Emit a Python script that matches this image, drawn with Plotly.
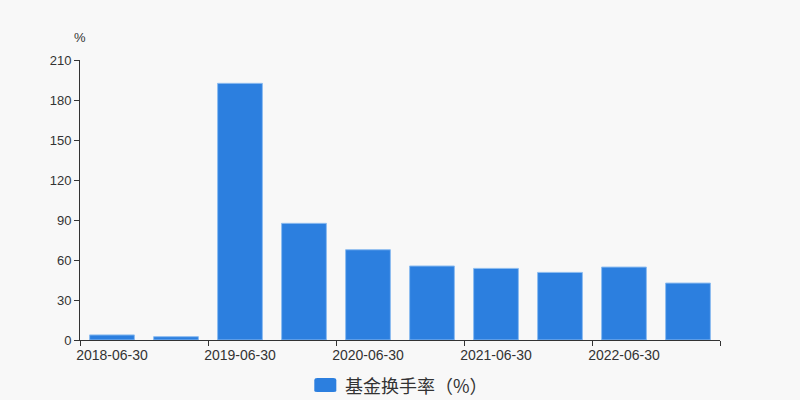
import plotly.graph_objects as go

categories = ["2018-06-30", "2018-12-31", "2019-06-30", "2019-12-31", "2020-06-30",
              "2020-12-31", "2021-06-30", "2021-12-31", "2022-06-30", "2022-12-31"]
turnover = [3.8, 2.5, 192.5, 87.5, 67.7, 55.5, 53.7, 50.7, 54.7, 42.7]
y_ticks = [0, 30, 60, 90, 120, 150, 180, 210]
series_name = "基金换手率（%）"

idx = list(range(len(categories)))
label_idx = idx[::2]
label_text = [categories[i] for i in label_idx]
boundaries = [i - 0.5 for i in idx[::2]] + [idx[-1] + 0.5]

bar_color = "#2c7fdf"
font_fam = "Liberation Sans, Arial, Noto Sans CJK SC, sans-serif"

fig = go.Figure()
fig.add_trace(go.Bar(
    x=idx, y=turnover, width=0.7, name=series_name,
    marker=dict(color=bar_color, line=dict(color="#8cbcf0", width=1)),
    showlegend=False,
))

fig.update_layout(
    width=800, height=400,
    margin=dict(l=80, r=80, t=60, b=60),
    paper_bgcolor="#f8f8f8", plot_bgcolor="#f8f8f8",
    font=dict(family=font_fam, color="#333333", size=13),
    xaxis=dict(
        range=[-0.5, len(categories) - 0.5],
        tickmode="array", tickvals=label_idx, ticktext=label_text,
        ticks="", showgrid=False, zeroline=False,
        showline=True, linecolor="#333333", linewidth=1,
        tickfont=dict(size=14, color="#333333"),
        ticklabelstandoff=2,
        minor=dict(tickmode="array", tickvals=boundaries, ticks="outside",
                   ticklen=5, tickcolor="#333333", tickwidth=1, showgrid=False),
    ),
    yaxis=dict(
        range=[0, 210], tickmode="array", tickvals=y_ticks,
        ticks="outside", ticklen=5, tickcolor="#333333",
        showgrid=False, zeroline=False,
        showline=True, linecolor="#333333", linewidth=1,
        tickfont=dict(size=13, color="#333333"),
    ),
    bargap=0.3,
)

fig.add_annotation(text="%", xref="paper", yref="paper", x=0, y=1, yshift=23,
                   showarrow=False, xanchor="center", yanchor="middle",
                   font=dict(size=13, color="#333333", family=font_fam))

# legend drawn manually (rounded icon + text)
fig.add_shape(type="path", xref="paper", yref="paper",
              path="M 0.3708,-0.1357 L 0.3958,-0.1357 Q 0.4005,-0.1357 0.4005,-0.1446 "
                   "L 0.4005,-0.1821 Q 0.4005,-0.1857 0.3958,-0.1857 L 0.3708,-0.1857 "
                   "Q 0.3661,-0.1857 0.3661,-0.1821 L 0.3661,-0.1446 Q 0.3661,-0.1357 0.3708,-0.1357 Z",
              fillcolor=bar_color, line=dict(width=0))
fig.add_annotation(text=series_name, xref="paper", yref="paper",
                   x=(343 - 80) / 640, y=-(385 - 340) / 280, showarrow=False,
                   xanchor="left", yanchor="middle",
                   font=dict(size=18, color="#333333",
                             family="Noto Sans CJK SC, sans-serif"))

fig.write_html("out.html", config={"displayModeBar": False},
               post_script="document.body.style.margin='0';")
